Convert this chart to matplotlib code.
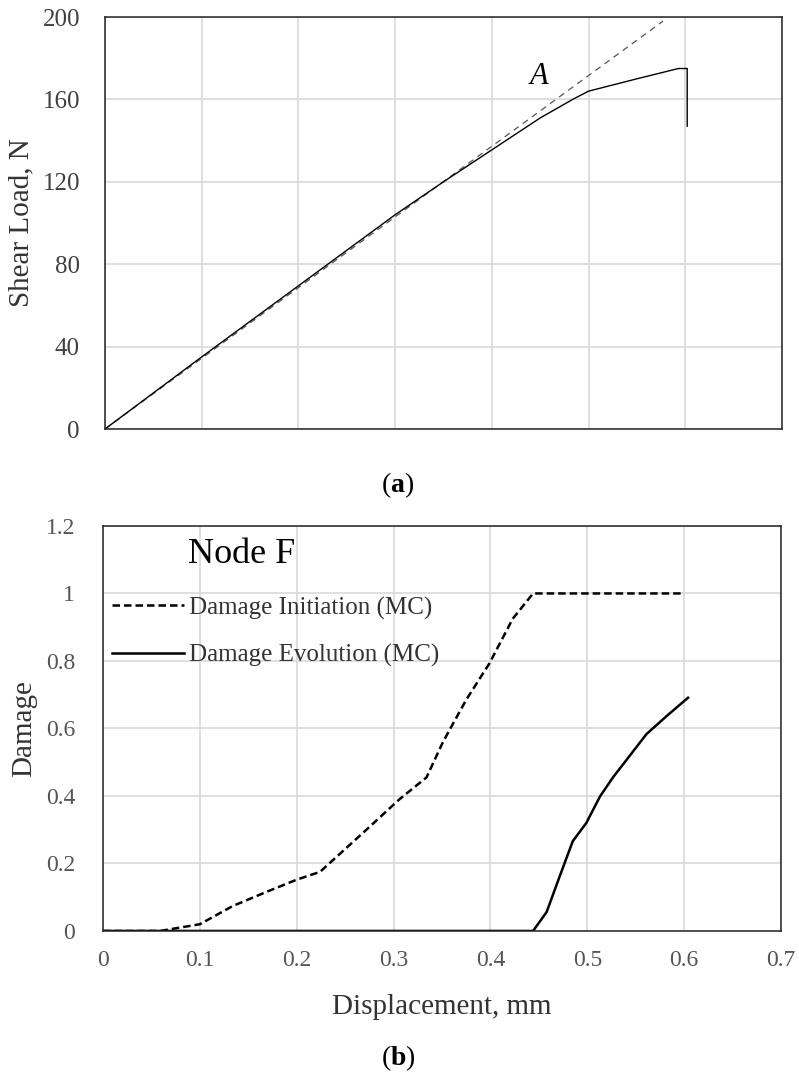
import matplotlib.pyplot as plt

plt.rcParams['font.family'] = ['Liberation Serif', 'DejaVu Serif']
plt.rcParams['mathtext.fontset'] = 'custom'
plt.rcParams['mathtext.bf'] = 'Liberation Serif:bold'
plt.rcParams['mathtext.rm'] = 'Liberation Serif'

# (a) shear load vs displacement
disp_fe = [0, 0.1, 0.2, 0.3, 0.35, 0.4, 0.45, 0.4836, 0.5, 0.55, 0.593, 0.602, 0.602]
load_fe = [0, 35, 69.5, 104, 120, 135.5, 151, 160, 164, 170, 175, 175, 147]
disp_lin = [0, 0.577]
load_lin = [0, 198]

# (b) damage at node F
disp_init = [0, 0.059, 0.1, 0.134, 0.169, 0.2, 0.224, 0.272, 0.306, 0.334, 0.351,
             0.375, 0.399, 0.423, 0.444, 0.60]
dmg_init = [0, 0, 0.02, 0.074, 0.116, 0.152, 0.175, 0.30, 0.39, 0.455, 0.56,
            0.685, 0.793, 0.925, 1.0, 1.0]
disp_evol = [0, 0.444, 0.458, 0.471, 0.485, 0.499, 0.513, 0.527, 0.540, 0.561, 0.582, 0.604]
dmg_evol = [0, 0, 0.056, 0.158, 0.266, 0.32, 0.398, 0.457, 0.505, 0.583, 0.637, 0.691]

grid_col = '#d9d9d9'

fig = plt.figure(figsize=(7.99, 10.76), dpi=100)

# ---- top plot ----
ax1 = fig.add_axes([0.1314, 0.6013, 0.8473, 0.3829])
ax1.plot(disp_lin, load_lin, color='#555555', lw=0.9, linestyle=(0, (5, 4)))
ax1.plot(disp_fe, load_fe, color='black', lw=1.0)
ax1.set_xlim(0, 0.7)
ax1.set_ylim(0, 200)
ax1.set_xticks([0, 0.1, 0.2, 0.3, 0.4, 0.5, 0.6, 0.7])
ax1.set_xticklabels([])
ax1.set_yticks([0, 40, 80, 120, 160, 200])
ax1.grid(True, color=grid_col, lw=1.2)
ax1.set_axisbelow(True)
ax1.tick_params(length=0, labelsize=18, labelcolor='#404040', pad=18)
ax1.set_ylabel('Shear Load, N', fontsize=21, color='#333333', labelpad=6)
ax1.text(0.449, 171, 'A', fontsize=22, style='italic', ha='center', va='center')
for s in ax1.spines.values():
    s.set_color('#222222')
    s.set_linewidth(1.1)

fig.text(0.498, 1 - 485 / 1076, r'($\mathbf{a}$)', fontsize=20, ha='center', va='center')

# ---- bottom plot ----
ax2 = fig.add_axes([0.1289, 0.1348, 0.8486, 0.3764])
ax2.plot(disp_init, dmg_init, color='black', lw=1.8, linestyle=(0, (3, 1.6)),
         label='Damage Initiation (MC)')
ax2.plot(disp_evol, dmg_evol, color='black', lw=1.8, label='Damage Evolution (MC)')
ax2.set_xlim(0, 0.7)
ax2.set_ylim(0, 1.2)
ax2.set_xticks([0, 0.1, 0.2, 0.3, 0.4, 0.5, 0.6, 0.7])
ax2.set_xticklabels(['0', '0.1', '0.2', '0.3', '0.4', '0.5', '0.6', '0.7'])
ax2.set_yticks([0, 0.2, 0.4, 0.6, 0.8, 1.0, 1.2])
ax2.set_yticklabels(['0', '0.2', '0.4', '0.6', '0.8', '1', '1.2'])
ax2.grid(True, color=grid_col, lw=1.2)
ax2.set_axisbelow(True)
ax2.tick_params(axis='y', length=0, labelsize=17, labelcolor='#555555', pad=20)
ax2.tick_params(axis='x', length=0, labelsize=17, labelcolor='#555555', pad=14)
ax2.set_ylabel('Damage', fontsize=21, color='#333333', labelpad=6)
ax2.set_xlabel('Displacement, mm', fontsize=21, color='#333333', labelpad=16)
for s in ax2.spines.values():
    s.set_color('#222222')
    s.set_linewidth(1.1)

ax2.text(0.088, 1.114, 'Node F', fontsize=26, ha='left', va='center')
leg = ax2.legend(loc='upper left', bbox_to_anchor=(0.013, 0.826), frameon=False,
                 fontsize=18, handlelength=2.9, handletextpad=0.2, labelspacing=0.98,
                 borderpad=0, borderaxespad=0)
for t in leg.get_texts():
    t.set_color('#333333')

fig.text(0.498, 1 - 1058 / 1076, r'($\mathbf{b}$)', fontsize=20, ha='center', va='center')

fig.savefig('out.png', dpi=100)
